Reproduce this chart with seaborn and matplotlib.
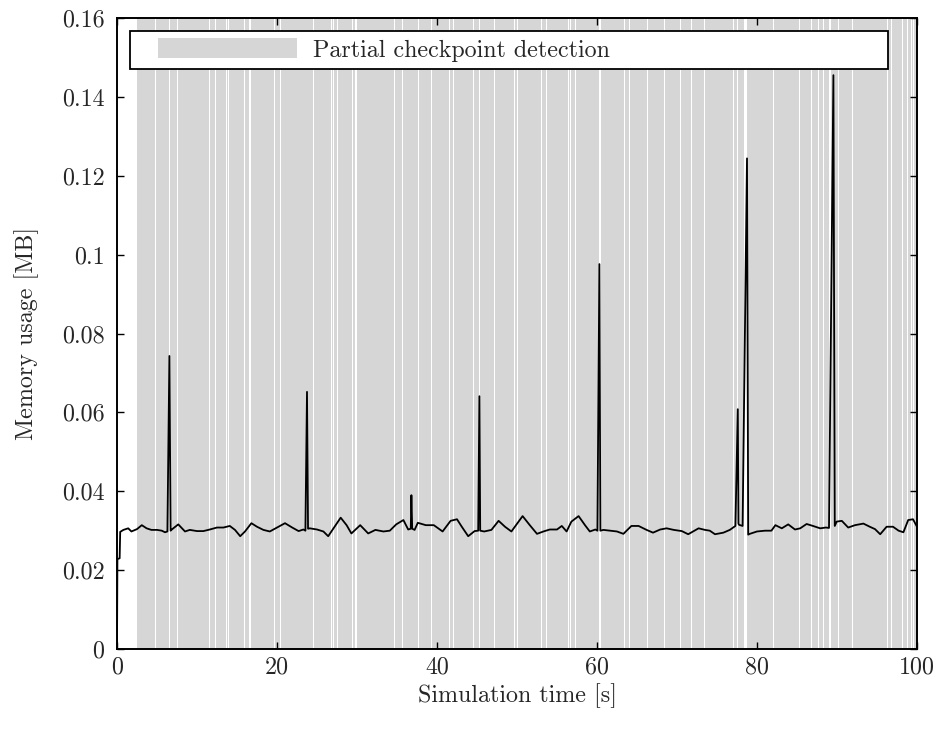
import matplotlib
matplotlib.use("Agg")
import matplotlib.pyplot as plt
import seaborn as sns
import pandas as pd
from matplotlib.patches import Patch, Rectangle
from matplotlib.legend_handler import HandlerPatch

# ---------------- data ----------------
time_s = [0.0, 0.05, 0.33, 0.4, 0.8, 1.4, 1.8, 2.5, 3.1, 3.7, 4.3, 5.0, 5.6, 6.0,
          6.3, 6.55, 6.7, 6.85, 7.66, 8.5, 9.1, 10.0, 10.8, 11.6, 12.5, 13.3,
          14.1, 14.75, 15.4, 16.0, 16.8, 17.5, 18.3, 19.1, 20.0, 21.0, 21.9,
          22.7, 23.3, 23.55, 23.75, 23.88, 24.1, 25.0, 25.8, 26.4, 27.2, 27.96,
          28.7, 29.3, 30.4, 31.4, 32.3, 33.3, 34.1, 34.9, 35.8, 36.4, 36.72,
          36.8, 36.9, 37.2, 37.6, 38.6, 39.6, 40.7, 41.7, 42.5, 43.1, 43.9,
          44.7, 45.15, 45.3, 45.4, 45.9, 46.8, 47.7, 48.5, 49.3, 50.7, 51.6,
          52.5, 53.3, 54.1, 55.0, 55.6, 56.2, 56.8, 57.7, 58.5, 59.1, 59.8,
          60.05, 60.3, 60.42, 60.8, 61.6, 62.5, 63.3, 64.3, 65.2, 66.2, 67.0,
          67.9, 68.7, 69.6, 70.6, 71.4, 72.0, 72.7, 73.5, 74.1, 74.75, 75.8,
          76.6, 77.3, 77.6, 77.68, 77.75, 78.2, 78.75, 78.9, 79.1, 80.0, 81.0,
          81.8, 82.3, 83.1, 83.9, 84.75, 85.4, 86.2, 87.0, 87.9, 88.6, 89.0,
          89.55, 89.72, 89.96, 90.6, 91.4, 92.25, 93.3, 94.1, 94.75, 95.4,
          96.2, 97.0, 97.7, 98.3, 98.9, 99.5, 100.0]
memory_mb = [0.0, 0.0228, 0.0230, 0.0297, 0.0302, 0.0306, 0.0298, 0.0304, 0.0314,
             0.0306, 0.0302, 0.0302, 0.0300, 0.0296,
             0.0298, 0.0743, 0.0300, 0.0303, 0.0316, 0.0298, 0.0302, 0.0299,
             0.0299, 0.0303, 0.0308, 0.0308,
             0.0312, 0.0302, 0.0286, 0.0298, 0.0319, 0.0310, 0.0302, 0.0298,
             0.0308, 0.0319, 0.0308,
             0.0299, 0.0303, 0.0300, 0.0652, 0.0305, 0.0306, 0.0303, 0.0298,
             0.0286, 0.0310, 0.0333,
             0.0314, 0.0293, 0.0314, 0.0293, 0.0302, 0.0298, 0.0300, 0.0316,
             0.0327, 0.0303, 0.0305,
             0.0390, 0.0305, 0.0302, 0.0320, 0.0314, 0.0314, 0.0298, 0.0325,
             0.0329, 0.0310, 0.0286,
             0.0299, 0.0300, 0.0641, 0.0300, 0.0298, 0.0302, 0.0325, 0.0310,
             0.0298, 0.0337, 0.0314,
             0.0292, 0.0298, 0.0303, 0.0303, 0.0312, 0.0298, 0.0323, 0.0337,
             0.0314, 0.0298, 0.0303,
             0.0300, 0.0976, 0.0300, 0.0302, 0.0300, 0.0298, 0.0292, 0.0312,
             0.0312, 0.0302, 0.0295,
             0.0303, 0.0306, 0.0302, 0.0299, 0.0291, 0.0298, 0.0306, 0.0302,
             0.0300, 0.0291, 0.0295,
             0.0302, 0.0312, 0.0608, 0.0318, 0.0315, 0.0312, 0.1244, 0.0290,
             0.0292, 0.0298, 0.0300,
             0.0300, 0.0314, 0.0306, 0.0316, 0.0303, 0.0306, 0.0317, 0.0312,
             0.0306, 0.0308, 0.0307,
             0.1455, 0.0312, 0.0323, 0.0325, 0.0308, 0.0314, 0.0318, 0.0310,
             0.0304, 0.0291,
             0.0310, 0.0310, 0.0300, 0.0296, 0.0327, 0.0329, 0.0310]

detection_start = 2.45
detection_end = 100.0
gap_start = [4.72, 6.45, 7.52, 11.5, 12.25, 13.65, 13.92, 15.85, 16.55, 19.62,
             20.35, 24.45, 26.8, 27.0, 27.5, 29.38, 29.8, 34.62, 35.58, 37.62,
             39.2, 41.45, 41.95, 44.5, 45.25, 47.1, 49.6, 50.0, 53.05, 53.62,
             56.35, 56.65, 57.2, 60.25, 63.4, 63.95, 66.2, 68.35, 70.4, 71.7,
             73.35, 77.05, 77.45, 78.35, 81.95, 85.25, 86.75, 87.65, 88.25,
             89.0, 90.15, 91.9, 96.25, 96.75, 98.15, 98.75, 99.25, 99.55]
gap_end = [4.84, 6.62, 7.68, 11.62, 12.37, 13.77, 14.04, 15.97, 16.72, 19.74,
           20.47, 24.57, 26.92, 27.12, 27.66, 29.5, 29.95, 34.74, 35.7, 37.74,
           39.32, 41.65, 42.1, 44.62, 45.37, 47.3, 49.74, 50.12, 53.17, 53.77,
           56.47, 56.77, 57.32, 60.55, 63.52, 64.07, 66.32, 68.47, 70.52,
           71.9, 73.47, 77.17, 77.6, 78.7, 82.07, 85.37, 86.87, 87.77, 88.37,
           89.28, 90.27, 92.02, 96.37, 96.87, 98.27, 98.87, 99.37, 99.67]

x_ticks = [0, 20, 40, 60, 80, 100]
x_tick_labels = ["0", "20", "40", "60", "80", "100"]
y_ticks = [0, 0.02, 0.04, 0.06, 0.08, 0.1, 0.12, 0.14, 0.16]
y_tick_labels = ["0", "0.02", "0.04", "0.06", "0.08", "0.1", "0.12", "0.14", "0.16"]

legend_label = "Partial checkpoint detection"
x_label = "Simulation time [s]"
y_label = "Memory usage [MB]"

# ---------------- style ----------------
sns.set_style("ticks")
plt.rcParams["font.family"] = ["cmr10", "DejaVu Serif"]
plt.rcParams["mathtext.fontset"] = "cm"
plt.rcParams["axes.formatter.use_mathtext"] = True

GRAY = "#d6d6d6"
FS = 17.3

fig = plt.figure(figsize=(9.41, 7.33), dpi=100)
ax = fig.add_axes([117 / 941, 1 - 649 / 733, 800 / 941, 631 / 733])

span_starts = [detection_start] + gap_end
span_ends = gap_start + [detection_end]
for s, e in zip(span_starts, span_ends):
    ax.axvspan(s, e, facecolor=GRAY, edgecolor="none", lw=0, zorder=0)

df = pd.DataFrame({"time": time_s, "mem": memory_mb})
sns.lineplot(data=df, x="time", y="mem", ax=ax, color="black", lw=1.3,
             sort=False, estimator=None, zorder=3)

ax.set_xlim(0, 100)
ax.set_ylim(0, 0.16)
ax.set_xticks(x_ticks)
ax.set_xticklabels(x_tick_labels)
ax.set_yticks(y_ticks)
ax.set_yticklabels(y_tick_labels)
ax.tick_params(direction="in", top=True, right=True, length=5, width=1.0,
               labelsize=FS, color="black")
ax.tick_params(axis="x", pad=5)
ax.tick_params(axis="y", pad=9)
for sp in ax.spines.values():
    sp.set_linewidth(1.4)
    sp.set_color("black")
    sp.set_zorder(5)

ax.set_xlabel(x_label, fontsize=FS, labelpad=4)
ax.set_ylabel(y_label, fontsize=FS, labelpad=16.5)


def legend_patch(legend, orig_handle, xdescent, ydescent, width, height, fontsize):
    offset = 15.0
    return Rectangle((-xdescent + offset, -ydescent), width - offset, height)


handle = Patch(facecolor=GRAY, edgecolor="none", label=legend_label)
leg = ax.legend(handles=[handle], loc="upper left",
                bbox_to_anchor=(0.01625, 0.9794 - 0.065, 0.9475, 0.065),
                mode="expand", borderaxespad=0, fontsize=FS, frameon=True,
                fancybox=False, framealpha=1, edgecolor="black",
                borderpad=0.3, handlelength=6.66, handleheight=0.92,
                handletextpad=0.66,
                handler_map={Patch: HandlerPatch(patch_func=legend_patch)})
leg.get_frame().set_linewidth(1.3)
leg.set_zorder(6)

fig.savefig("out.png", dpi=100)
